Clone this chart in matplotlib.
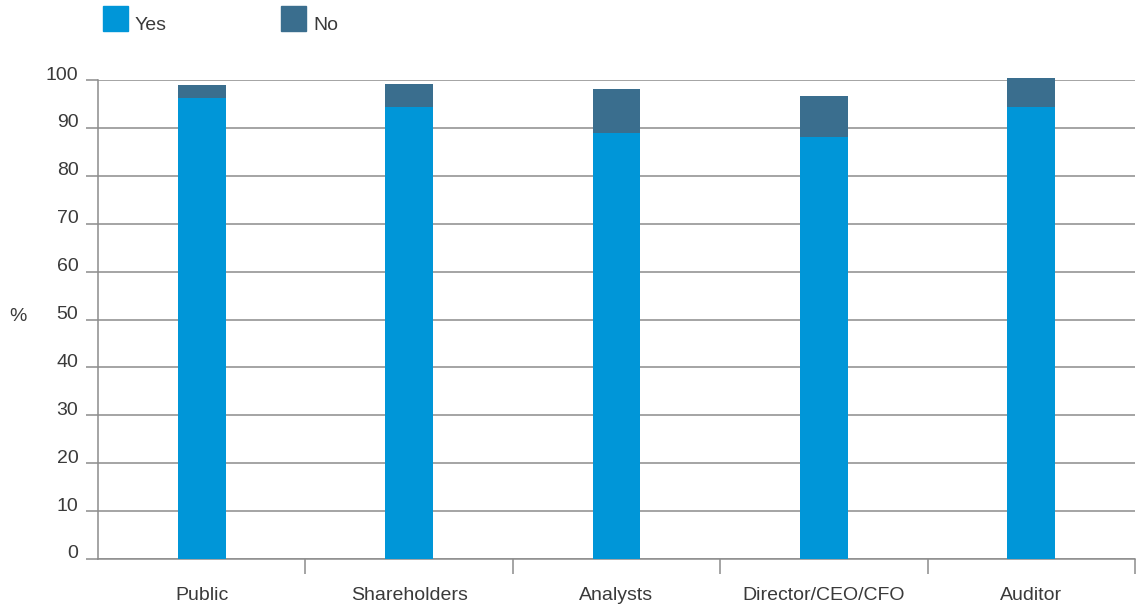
import matplotlib.pyplot as plt
import matplotlib.transforms as mtransforms
import numpy as np

plt.rcParams['font.family'] = ['Liberation Sans Narrow', 'Liberation Sans', 'DejaVu Sans']

categories = ['Public', 'Shareholders', 'Analysts', 'Director/CEO/CFO', 'Auditor']
yes_pct = [96.2, 94.4, 88.9, 88.1, 94.4]
no_pct = [2.8, 4.8, 9.2, 8.6, 6.0]
yticks = [0, 10, 20, 30, 40, 50, 60, 70, 80, 90, 100]

yes_color = '#0096d8'
no_color = '#3a6e8e'
grid_color = '#8c8c8c'
text_color = '#3a3a3a'

fig = plt.figure(figsize=(11.41, 6.11), dpi=100)
ax = fig.add_axes([98 / 1141, 52 / 611, 1037 / 1141, 479 / 611])

x = np.arange(len(categories))
ax.bar(x, yes_pct, width=0.23, color=yes_color, zorder=3, clip_on=False)
ax.bar(x, no_pct, width=0.23, bottom=yes_pct, color=no_color, zorder=3, clip_on=False)

ax.set_xlim(-0.5, len(categories) - 0.5)
ax.set_ylim(0, 100)

# horizontal rules, pushed out past the axis by the tick marks
ax.set_yticks(yticks)
ax.yaxis.grid(True, color=grid_color, linewidth=1.1, zorder=0)
ax.tick_params(axis='y', length=8.6, width=1.1, color=grid_color, labelsize=14,
               labelcolor=text_color, pad=5.5)
offset = mtransforms.ScaledTranslation(0, 7 / 100, fig.dpi_scale_trans)
for lbl in ax.get_yticklabels():
    lbl.set_transform(lbl.get_transform() + offset)

# category labels centred, separators between categories
ax.set_xticks(x)
ax.set_xticklabels(categories)
ax.set_xticks(np.arange(len(categories)) + 0.5, minor=True)
ax.tick_params(axis='x', which='major', length=0, pad=20, labelsize=14, labelcolor=text_color)
ax.tick_params(axis='x', which='minor', length=10.8, width=1.1, color=grid_color)

for side in ['top', 'right']:
    ax.spines[side].set_visible(False)
for side in ['left', 'bottom']:
    ax.spines[side].set_color(grid_color)
    ax.spines[side].set_linewidth(1.1)

fig.text(18 / 1141, 1 - 316 / 611, '%', fontsize=14, color=text_color, ha='center', va='center')

# legend
for x0, label, col in [(103, 'Yes', yes_color), (281, 'No', no_color)]:
    fig.patches.append(plt.Rectangle((x0 / 1141, 1 - 31 / 611), 25 / 1141, 25 / 611,
                                     transform=fig.transFigure, color=col))
    fig.text((x0 + 32) / 1141, 1 - 25 / 611, label, fontsize=14, color=text_color,
             ha='left', va='center')

fig.savefig('out.png', dpi=100)
